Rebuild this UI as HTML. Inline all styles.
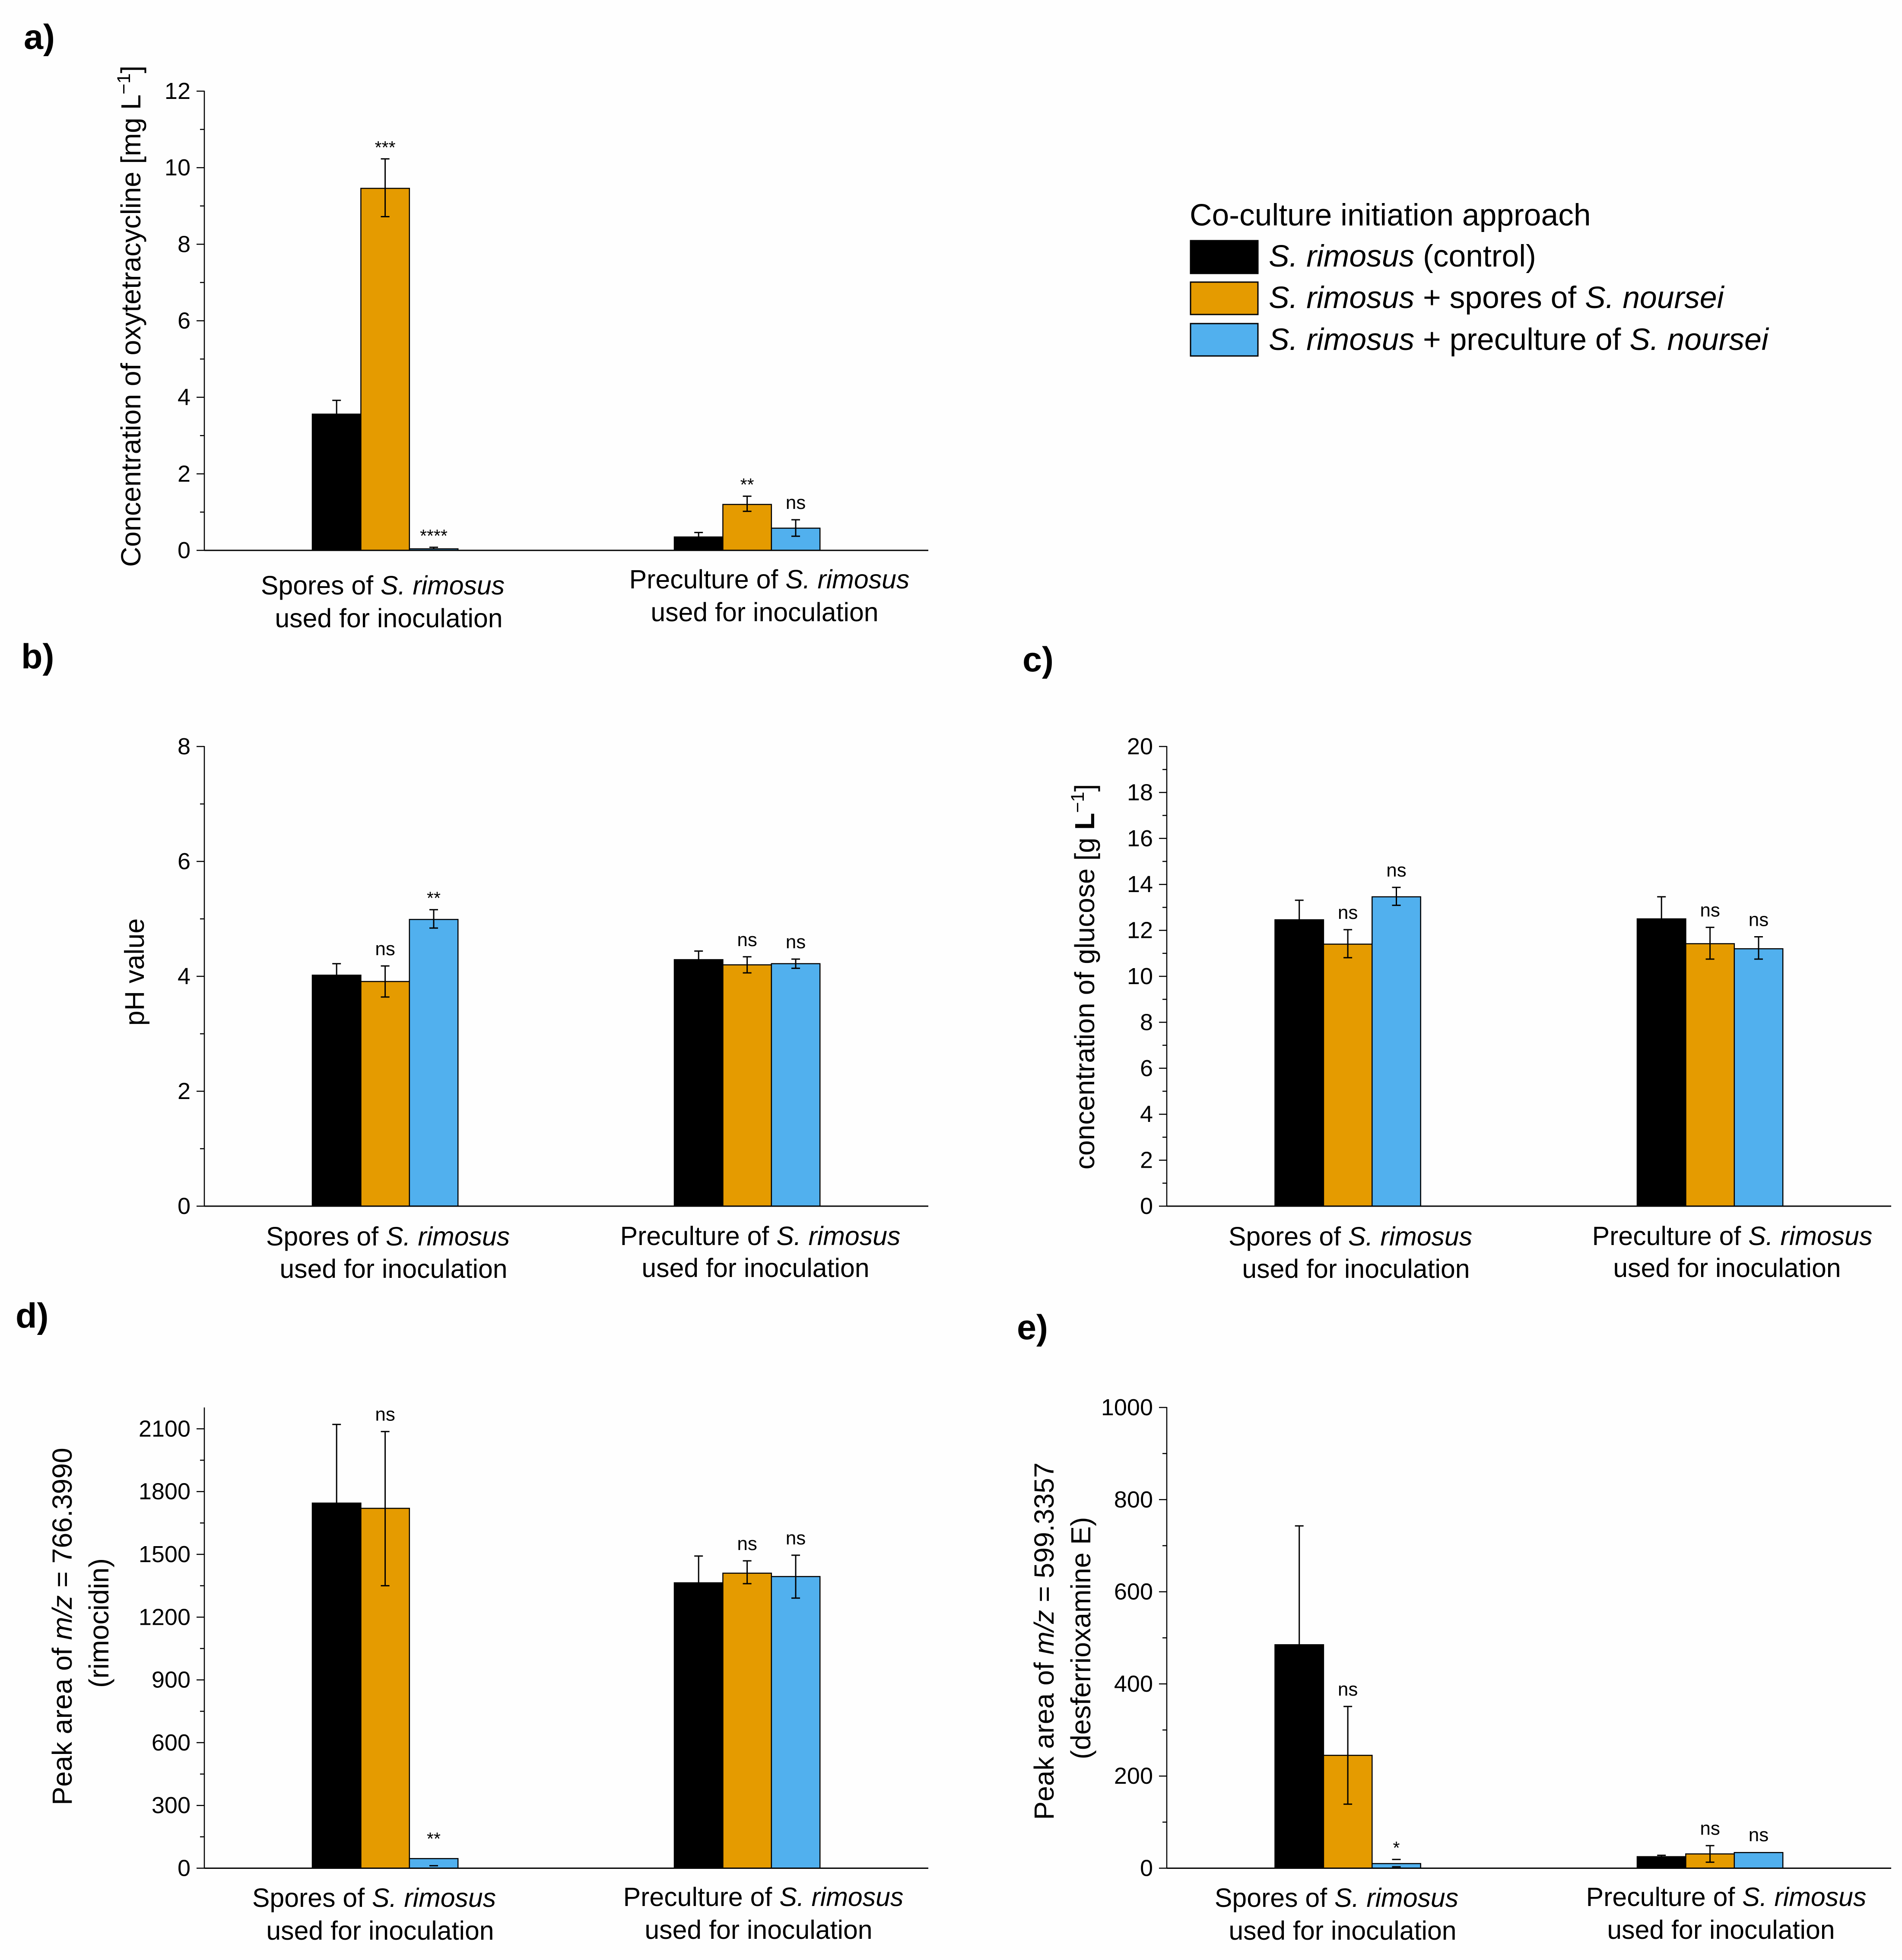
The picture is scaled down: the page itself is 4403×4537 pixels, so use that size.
<!DOCTYPE html>
<html lang="en">
<head>
<meta charset="utf-8">
<title>Co-culture bar charts</title>
<style>
html,body{margin:0;padding:0;background:#fefefe;}
svg{display:block;}
text{font-family:"Liberation Sans",Arial,sans-serif;fill:#000;}
.cat{font-size:60.8px;text-anchor:middle;}
.ytitle{font-size:64.3px;text-anchor:middle;}
.letter{font-size:81px;font-weight:bold;}
.legend{font-size:71.4px;}
.i{font-style:italic;}
.tick{font-size:54px;text-anchor:end;}
.note{text-anchor:middle;}
</style>
</head>
<body>
<svg id="figure" xmlns="http://www.w3.org/2000/svg" width="4403" height="4537" viewBox="0 0 4403 4537">
  <rect x="0" y="0" width="4403" height="4537" fill="#fefefe"/>

  <text class="letter" x="55" y="113">a)</text>
  <text class="letter" x="49" y="1547">b)</text>
  <text class="letter" x="2367" y="1554">c)</text>
  <text class="letter" x="36" y="3073">d)</text>
  <text class="letter" x="2354" y="3100">e)</text>

  <g>
    <text class="legend" x="2754" y="522">Co-culture initiation approach</text>
    <rect x="2756" y="557" width="156" height="76" fill="#000" stroke="#000" stroke-width="3"/>
    <text class="legend" x="2937" y="617"><tspan class="i">S. rimosus</tspan> (control)</text>
    <rect x="2756" y="653" width="156" height="75" fill="#e59b00" stroke="#000" stroke-width="3"/>
    <text class="legend" x="2937" y="713"><tspan class="i">S. rimosus</tspan> + spores of <tspan class="i">S. noursei</tspan></text>
    <rect x="2756" y="749" width="156" height="75" fill="#51b0ee" stroke="#000" stroke-width="3"/>
    <text class="legend" x="2937" y="810"><tspan class="i">S. rimosus</tspan> + preculture of <tspan class="i">S. noursei</tspan></text>
  </g>

  <!-- Panel a text -->
  <text class="ytitle" transform="translate(325,732) rotate(-90)">Concentration of oxytetracycline [mg L<tspan font-size="43" dy="-24">−1</tspan><tspan dy="24">]</tspan></text>
  <text class="cat" x="886" y="1376">Spores of <tspan class="i">S. rimosus</tspan></text>
  <text class="cat" x="900" y="1452">used for inoculation</text>
  <text class="cat" x="1781" y="1362">Preculture of <tspan class="i">S. rimosus</tspan></text>
  <text class="cat" x="1770" y="1438">used for inoculation</text>

  <!-- Panel b text -->
  <text class="ytitle" style="font-size:63px" transform="translate(333,2250) rotate(-90)">pH value</text>
  <text class="cat" x="898" y="2883">Spores of <tspan class="i">S. rimosus</tspan></text>
  <text class="cat" x="911" y="2958">used for inoculation</text>
  <text class="cat" x="1760" y="2882">Preculture of <tspan class="i">S. rimosus</tspan></text>
  <text class="cat" x="1749" y="2956">used for inoculation</text>

  <!-- Panel c text -->
  <text class="ytitle" transform="translate(2533,2261) rotate(-90)">concentration of glucose [g <tspan font-weight="bold">L</tspan><tspan font-size="43" dy="-24">−1</tspan><tspan dy="24">]</tspan></text>
  <text class="cat" x="3126" y="2883">Spores of <tspan class="i">S. rimosus</tspan></text>
  <text class="cat" x="3139" y="2958">used for inoculation</text>
  <text class="cat" x="4010" y="2882">Preculture of <tspan class="i">S. rimosus</tspan></text>
  <text class="cat" x="3998" y="2956">used for inoculation</text>

  <!-- Panel d text -->
  <text class="ytitle" transform="translate(166,3765) rotate(-90)">Peak area of <tspan class="i">m/z</tspan> = 766.3990</text>
  <text class="ytitle" transform="translate(251,3757) rotate(-90)">(rimocidin)</text>
  <text class="cat" x="866" y="4414">Spores of <tspan class="i">S. rimosus</tspan></text>
  <text class="cat" x="880" y="4490">used for inoculation</text>
  <text class="cat" x="1767" y="4412">Preculture of <tspan class="i">S. rimosus</tspan></text>
  <text class="cat" x="1756" y="4488">used for inoculation</text>

  <!-- Panel e text -->
  <text class="ytitle" transform="translate(2439,3799) rotate(-90)">Peak area of <tspan class="i">m/z</tspan> = 599.3357</text>
  <text class="ytitle" transform="translate(2524,3792) rotate(-90)">(desferrioxamine E)</text>
  <text class="cat" x="3094" y="4414">Spores of <tspan class="i">S. rimosus</tspan></text>
  <text class="cat" x="3108" y="4490">used for inoculation</text>
  <text class="cat" x="3996" y="4412">Preculture of <tspan class="i">S. rimosus</tspan></text>
  <text class="cat" x="3984" y="4488">used for inoculation</text>
</svg>

<script>
// Shared categories and series names
const groupNames = ['spores-inoculum', 'preculture-inoculum'];
const seriesNames = ['control', 'spores', 'preculture'];

// Panel a: oxytetracycline
const aTicks = [0, 2, 4, 6, 8, 10, 12];
const aControl = [3.56, 0.35];
const aSpores = [9.46, 1.2];
const aPreculture = [0.04, 0.58];
const aControlHigh = [3.92, 0.467];
const aSporesHigh = [10.23, 1.415];
const aPrecultureHigh = [0.08, 0.8];
const aControlLow = [null, null];
const aSporesLow = [8.72, 1.02];
const aPrecultureLow = [null, 0.37];
const aSporesMarks = ['***', '**'];
const aPrecultureMarks = ['****', 'ns'];

// Panel b: pH
const bTicks = [0, 2, 4, 6, 8];
const bControl = [4.02, 4.29];
const bSpores = [3.91, 4.2];
const bPreculture = [4.99, 4.22];
const bControlHigh = [4.22, 4.44];
const bSporesHigh = [4.18, 4.34];
const bPrecultureHigh = [5.16, 4.3];
const bControlLow = [null, null];
const bSporesLow = [3.64, 4.06];
const bPrecultureLow = [4.84, 4.14];
const bSporesMarks = ['ns', 'ns'];
const bPrecultureMarks = ['**', 'ns'];

// Panel c: glucose
const cTicks = [0, 2, 4, 6, 8, 10, 12, 14, 16, 18, 20];
const cControl = [12.46, 12.5];
const cSpores = [11.4, 11.42];
const cPreculture = [13.46, 11.2];
const cControlHigh = [13.31, 13.46];
const cSporesHigh = [12.03, 12.13];
const cPrecultureHigh = [13.87, 11.72];
const cControlLow = [null, null];
const cSporesLow = [10.81, 10.75];
const cPrecultureLow = [13.09, 10.75];
const cSporesMarks = ['ns', 'ns'];
const cPrecultureMarks = ['ns', 'ns'];

// Panel d: rimocidin
const dTicks = [0, 300, 600, 900, 1200, 1500, 1800, 2100];
const dControl = [1745, 1364];
const dSpores = [1720, 1410];
const dPreculture = [46, 1394];
const dControlHigh = [2121, 1492];
const dSporesHigh = [2087, 1469];
const dPrecultureHigh = [null, 1496];
const dControlLow = [null, null];
const dSporesLow = [1350, 1360];
const dPrecultureLow = [12, 1291];
const dSporesMarks = ['ns', 'ns'];
const dPrecultureMarks = ['**', 'ns'];

// Panel e: desferrioxamine E
const eTicks = [0, 200, 400, 600, 800, 1000];
const eControl = [485, 25];
const eSpores = [245, 31];
const ePreculture = [10, 34];
const eControlHigh = [743, 28];
const eSporesHigh = [351, 49];
const ePrecultureHigh = [19, null];
const eControlLow = [null, null];
const eSporesLow = [139, 13];
const ePrecultureLow = [3, null];
const eSporesMarks = ['ns', 'ns'];
const ePrecultureMarks = ['*', 'ns'];

const svg = document.getElementById('figure');
const NS = 'http://www.w3.org/2000/svg';
const seriesFills = ['#000000', '#e59b00', '#51b0ee'];

function make(tag, props) {
  const el = document.createElementNS(NS, tag);
  for (const k in props) el.setAttribute(k, props[k]);
  return el;
}

function drawPanel(p) {
  const g = make('g', {});
  
  
  svg.appendChild(g);

  const yScale = function (v) { return p.y0 - (v / p.yMax) * (p.y0 - p.yTop); };
  const xBar = function (group, series) { return p.barStart + group * p.groupStep + series * p.barW; };

  // minor ticks
  for (let i = 0; i + 1 < p.ticks.length; i++) {
    const mid = (p.ticks[i] + p.ticks[i + 1]) / 2;
    const minor = make('line', { x1: p.axisX - 10, x2: p.axisX, y1: yScale(mid), y2: yScale(mid), stroke: '#000', 'stroke-width': 2.5 });
    
    
    g.appendChild(minor);
  }
  const lastTick = p.ticks[p.ticks.length - 1];
  const step = p.ticks[1] - p.ticks[0];
  if (lastTick + step / 2 <= p.yMax) {
    const extra = make('line', { x1: p.axisX - 10, x2: p.axisX, y1: yScale(lastTick + step / 2), y2: yScale(lastTick + step / 2), stroke: '#000', 'stroke-width': 2.5 });
    
    
    g.appendChild(extra);
  }

  // major ticks and labels
  p.ticks.forEach(function (t) {
    const tick = make('line', { x1: p.axisX - 18, x2: p.axisX, y1: yScale(t), y2: yScale(t), stroke: '#000', 'stroke-width': 2.5 });
    
    
    g.appendChild(tick);
    const label = make('text', { class: 'tick', x: p.axisX - 32, y: yScale(t) + 18 });
    
    
    label.textContent = String(t);
    g.appendChild(label);
  });

  // bars and whiskers
  p.values.forEach(function (vals, s) {
    vals.forEach(function (v, gi) {
      const x = xBar(gi, s);
      const top = yScale(v);
      const bar = make('rect', { x: x, y: top, width: p.barW, height: p.y0 - top, fill: seriesFills[s], stroke: '#000', 'stroke-width': 2.5 });
      
      
      g.appendChild(bar);
    });
  });
  p.values.forEach(function (vals, s) {
    vals.forEach(function (v, gi) {
      const cx = xBar(gi, s) + p.barW / 2;
      const hi = p.highs[s][gi];
      const lo = p.lows[s][gi];
      const yHi = hi === null ? yScale(v) : yScale(hi);
      const yLo = lo === null ? yScale(v) : yScale(lo);
      // The near-zero blue bars of panels d and e show only their caps.
      const capOnly = p.capOnlyBlueFirst === true && s === 2 && gi === 0;
      if (hi !== null || lo !== null) {
        const stem = make('path', {
          d: (capOnly ? '' : 'M' + cx + ' ' + yHi + 'V' + yLo) +
             (hi !== null ? 'M' + (cx - 10) + ' ' + yHi + 'H' + (cx + 10) : '') +
             (lo !== null ? 'M' + (cx - 10) + ' ' + yLo + 'H' + (cx + 10) : ''),
          fill: 'none', stroke: '#000', 'stroke-width': 3
        });
        
        
        g.appendChild(stem);
      }
      const mark = s === 0 ? '' : p.marks[s - 1][gi];
      if (mark) {
        const isNs = mark === 'ns';
        const gap = hi === null ? (isNs ? 26 : 32) : (isNs ? 25 : 13);
        const note = make('text', { class: 'note', x: cx, y: yHi - gap, 'font-size': isNs ? 44 : 41 });
        
        
        note.textContent = mark;
        g.appendChild(note);
      }
    });
  });

  // axes on top
  const yAxis = make('line', { x1: p.axisX, x2: p.axisX, y1: p.yTop - 1, y2: p.y0 + 1, stroke: '#000', 'stroke-width': 2.5 });
  
  
  g.appendChild(yAxis);
  const xAxis = make('line', { x1: p.axisX, x2: p.axisEnd, y1: p.y0, y2: p.y0, stroke: '#000', 'stroke-width': 3 });
  
  
  g.appendChild(xAxis);
}

drawPanel({ id: 'a', axisX: 473, axisEnd: 2149, y0: 1274, yTop: 211, yMax: 12, barStart: 723, groupStep: 838, barW: 112.4,
  ticks: aTicks, values: [aControl, aSpores, aPreculture], highs: [aControlHigh, aSporesHigh, aPrecultureHigh],
  lows: [aControlLow, aSporesLow, aPrecultureLow], marks: [aSporesMarks, aPrecultureMarks] });
drawPanel({ id: 'b', axisX: 473, axisEnd: 2149, y0: 2792, yTop: 1728, yMax: 8, barStart: 723, groupStep: 838, barW: 112.4,
  ticks: bTicks, values: [bControl, bSpores, bPreculture], highs: [bControlHigh, bSporesHigh, bPrecultureHigh],
  lows: [bControlLow, bSporesLow, bPrecultureLow], marks: [bSporesMarks, bPrecultureMarks] });
drawPanel({ id: 'c', axisX: 2701, axisEnd: 4378, y0: 2792, yTop: 1728, yMax: 20, barStart: 2951.5, groupStep: 838.5, barW: 112.4,
  ticks: cTicks, values: [cControl, cSpores, cPreculture], highs: [cControlHigh, cSporesHigh, cPrecultureHigh],
  lows: [cControlLow, cSporesLow, cPrecultureLow], marks: [cSporesMarks, cPrecultureMarks] });
drawPanel({ id: 'd', axisX: 473, axisEnd: 2149, y0: 4324.5, yTop: 3259, yMax: 2200, barStart: 723, groupStep: 838, barW: 112.4, capOnlyBlueFirst: true,
  ticks: dTicks, values: [dControl, dSpores, dPreculture], highs: [dControlHigh, dSporesHigh, dPrecultureHigh],
  lows: [dControlLow, dSporesLow, dPrecultureLow], marks: [dSporesMarks, dPrecultureMarks] });
drawPanel({ id: 'e', axisX: 2701, axisEnd: 4378, y0: 4324.5, yTop: 3258, yMax: 1000, barStart: 2951.5, groupStep: 838.5, barW: 112.4, capOnlyBlueFirst: true,
  ticks: eTicks, values: [eControl, eSpores, ePreculture], highs: [eControlHigh, eSporesHigh, ePrecultureHigh],
  lows: [eControlLow, eSporesLow, ePrecultureLow], marks: [eSporesMarks, ePrecultureMarks] });
</script>
</body>
</html>
